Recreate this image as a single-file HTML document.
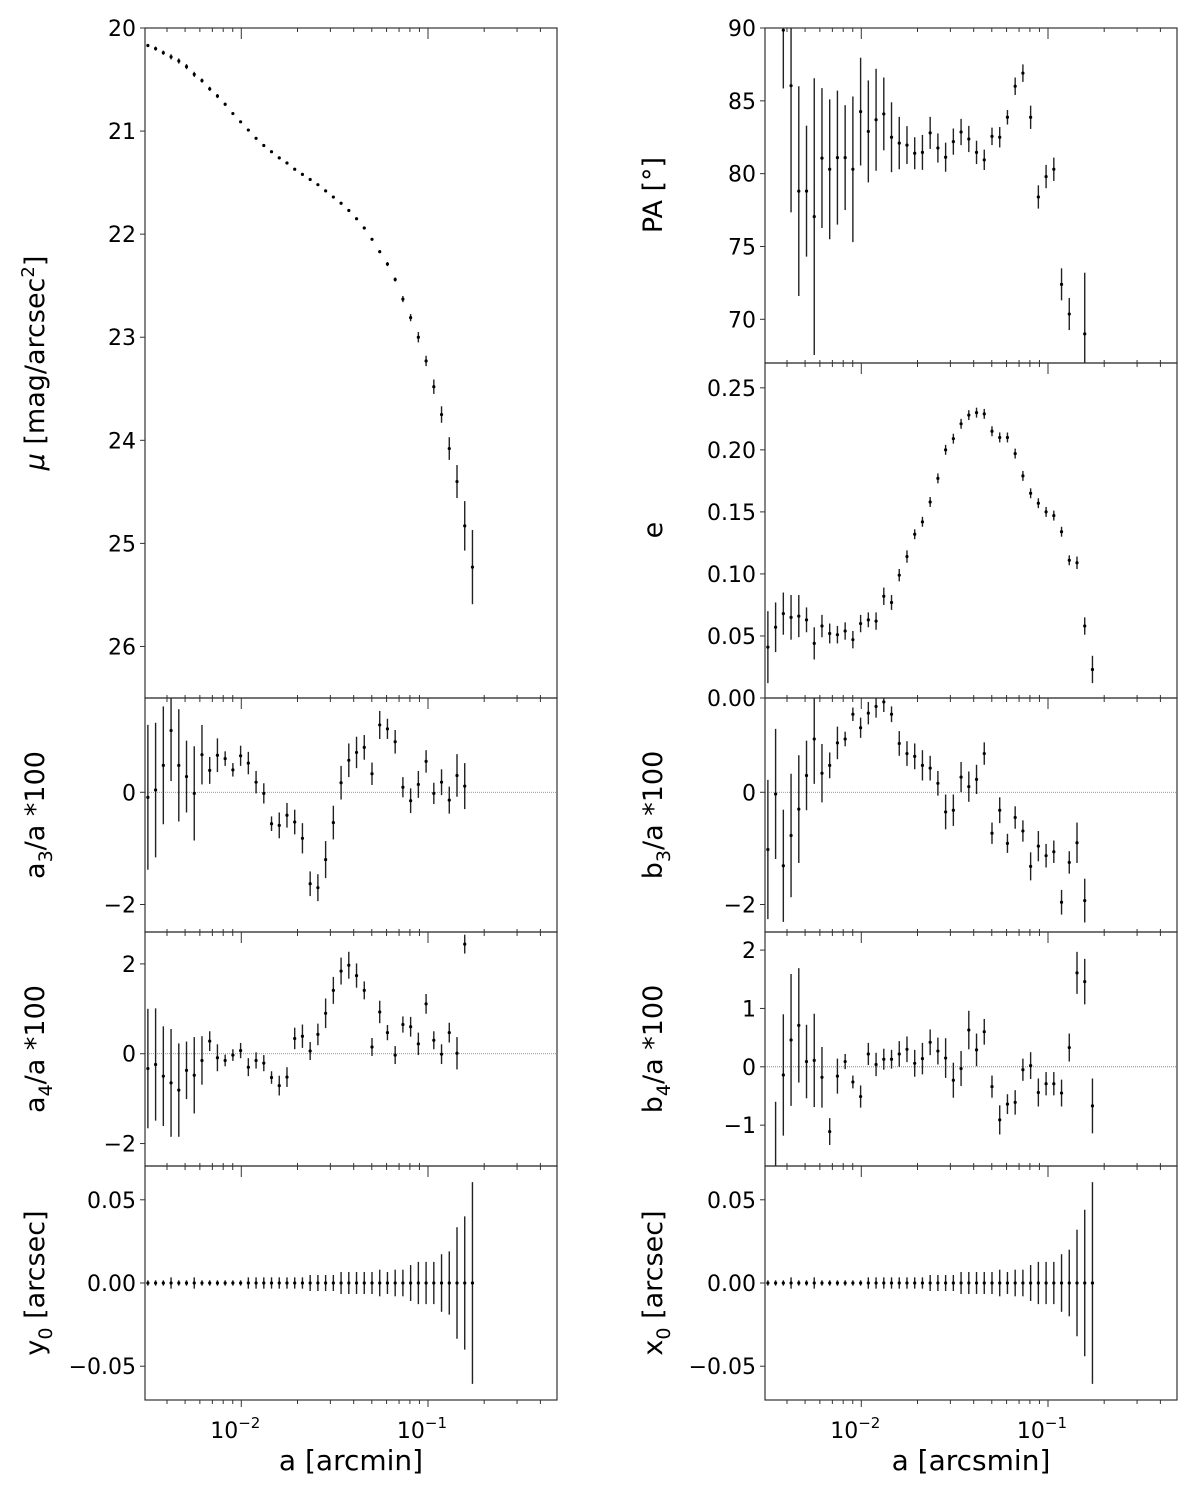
<!DOCTYPE html>
<html><head><meta charset="utf-8">
<style>
html,body{margin:0;padding:0;background:#fff;}
svg{display:block;font-family:"DejaVu Sans","Liberation Sans",sans-serif;}
</style></head>
<body>
<svg id="fig" width="1200" height="1491" viewBox="0 0 1200 1491" xmlns="http://www.w3.org/2000/svg">
<rect width="1200" height="1491" fill="#fff"/>
</svg>
<script>
// ---- data ----
const radius = [0.00316,0.003476,0.0038236,0.004206,0.0046266,0.0050892,0.0055981,0.0061579,0.0067737,0.0074511,0.0081962,0.0090158,0.0099174,0.0109091,0.012,0.0132,0.01452,0.015972,0.0175692,0.0193261,0.0212587,0.0233846,0.0257231,0.0282954,0.0311249,0.0342374,0.0376611,0.0414272,0.0455699,0.0501269,0.0551396,0.0606536,0.066719,0.0733909,0.08073,0.088803,0.0976833,0.1074516,0.1181968,0.1300165,0.1430181,0.1573199,0.1730519];
const muVals = [20.17,20.20,20.24,20.28,20.32,20.375,20.45,20.51,20.59,20.66,20.74,20.83,20.91,20.99,21.07,21.14,21.20,21.26,21.31,21.37,21.42,21.47,21.52,21.58,21.64,21.70,21.77,21.85,21.94,22.05,22.17,22.29,22.44,22.63,22.81,23.00,23.23,23.48,23.75,24.08,24.40,24.83,25.23];
const muErrs = [0.015,0.02,0.02,0.025,0.025,0.025,0.025,0.02,0.02,0.02,0.015,0.01,0.01,0.01,0.01,0.01,0.01,0.01,0.01,0.01,0.01,0.01,0.01,0.01,0.01,0.01,0.01,0.01,0.01,0.01,0.015,0.02,0.02,0.03,0.035,0.05,0.05,0.07,0.08,0.11,0.16,0.24,0.36];
const paVals = [null,null,89.85,86.04,78.8,78.8,77.05,81.07,80.3,81.1,81.1,80.3,84.26,82.9,83.7,84.1,82.5,82.1,81.96,81.4,81.46,82.8,81.76,81.13,82.2,82.86,82.38,81.46,80.95,82.56,82.5,83.87,86.0,86.9,83.87,78.4,79.8,80.3,72.4,70.36,null,69.0,null];
const paErrs = [0,0,4,8.7,7.2,4.5,9.5,4.8,4.8,4.6,3.6,5,3.7,3.5,3.5,2.5,2.4,1.8,1.3,1.1,1.2,1.1,1.0,1.0,0.9,0.9,0.9,0.8,0.7,0.6,0.7,0.5,0.6,0.6,0.8,0.8,0.8,0.8,1.1,1.1,0,4.2,0];
const eVals = [0.041,0.057,0.068,0.065,0.066,0.063,0.044,0.058,0.052,0.051,0.054,0.047,0.060,0.063,0.062,0.082,0.077,0.099,0.114,0.132,0.142,0.158,0.177,0.200,0.209,0.221,0.228,0.230,0.229,0.215,0.210,0.210,0.197,0.179,0.165,0.157,0.150,0.147,0.134,0.111,0.109,0.058,0.023];
const eErrs = [0.029,0.02,0.017,0.018,0.017,0.01,0.013,0.009,0.008,0.007,0.007,0.007,0.007,0.006,0.007,0.007,0.006,0.005,0.005,0.004,0.004,0.004,0.004,0.004,0.004,0.004,0.004,0.004,0.004,0.004,0.004,0.004,0.004,0.004,0.004,0.004,0.004,0.004,0.004,0.004,0.005,0.007,0.011];
const a3Vals = [-0.09,0.04,0.48,1.10,0.48,0.28,-0.02,0.67,0.39,0.66,0.60,0.40,0.65,0.52,0.18,-0.02,-0.56,-0.59,-0.41,-0.53,-0.82,-1.63,-1.70,-1.20,-0.54,0.17,0.57,0.71,0.80,0.33,1.20,1.13,0.90,0.09,-0.15,0.14,0.55,-0.02,0.18,-0.14,0.30,0.11,null];
const a3Errs = [1.29,1.2,1.05,0.9,1.0,0.64,0.84,0.53,0.24,0.3,0.13,0.12,0.18,0.2,0.2,0.18,0.13,0.23,0.22,0.22,0.27,0.22,0.24,0.33,0.3,0.3,0.3,0.28,0.22,0.2,0.25,0.18,0.21,0.18,0.22,0.24,0.2,0.19,0.23,0.24,0.38,0.41,0];
const a4Vals = [-0.33,-0.24,-0.50,-0.65,-0.81,-0.37,-0.48,-0.15,0.28,-0.09,-0.15,-0.03,0.07,-0.30,-0.15,-0.21,-0.53,-0.71,-0.52,0.34,0.39,0.06,0.43,0.90,1.41,1.84,1.97,1.74,1.41,0.15,0.93,0.47,-0.03,0.65,0.60,0.22,1.11,0.30,-0.01,0.47,0.01,2.44,null];
const a4Errs = [1.33,1.25,1.11,1.2,1.04,0.64,0.85,0.54,0.22,0.3,0.13,0.13,0.17,0.2,0.18,0.18,0.14,0.22,0.22,0.24,0.26,0.2,0.24,0.33,0.3,0.3,0.3,0.27,0.2,0.2,0.25,0.17,0.2,0.18,0.22,0.25,0.22,0.2,0.22,0.22,0.36,0.21,0];
const b3Vals = [-1.02,-0.03,-1.31,-0.77,-0.30,0.30,0.95,0.34,0.48,0.88,0.95,1.39,1.15,1.41,1.53,1.61,1.39,0.87,0.69,0.64,0.48,0.43,0.16,-0.35,-0.32,0.27,0.10,0.23,0.69,-0.73,-0.32,-0.91,-0.45,-0.69,-1.32,-0.96,-1.13,-1.06,-1.96,-1.25,-0.90,-1.93,null];
const b3Errs = [1.24,1.16,1.0,1.1,0.96,0.62,0.8,0.52,0.23,0.29,0.13,0.12,0.18,0.2,0.2,0.18,0.14,0.22,0.22,0.23,0.27,0.22,0.22,0.31,0.28,0.27,0.27,0.26,0.2,0.19,0.23,0.17,0.2,0.19,0.25,0.27,0.21,0.2,0.22,0.2,0.36,0.39,0];
const b4Vals = [null,-1.9,-0.14,0.46,0.71,0.09,0.11,-0.18,-1.11,-0.16,0.09,-0.26,-0.51,0.22,0.04,0.13,0.13,0.22,0.30,0.06,0.14,0.42,0.27,0.15,-0.23,-0.03,0.63,0.29,0.60,-0.34,-0.91,-0.64,-0.61,-0.05,0.02,-0.44,-0.29,-0.29,-0.45,0.33,1.61,1.46,-0.67];
const b4Errs = [0,1.3,1.04,1.13,0.98,0.63,0.8,0.52,0.23,0.3,0.13,0.11,0.19,0.19,0.2,0.18,0.16,0.22,0.22,0.23,0.27,0.22,0.23,0.34,0.3,0.3,0.33,0.28,0.22,0.19,0.25,0.17,0.21,0.19,0.23,0.24,0.2,0.2,0.23,0.24,0.36,0.39,0.47];
const y0Vals = [0,0,0,0,0,0,0,0,0,0,0,0,0,0,0,0,0,0,0,0,0,0,0,0,0,0,0,0,0,0,0,0,0,0,0,0,0,0,0,0,0,0,0];
const y0Errs = [0.0016,0.0016,0.0016,0.0034,0.0016,0.0016,0.0034,0.0016,0.0016,0.0016,0.0016,0.0016,0.0016,0.0034,0.0034,0.0034,0.0034,0.0034,0.0034,0.0034,0.0034,0.0048,0.0048,0.0048,0.0048,0.0066,0.0066,0.0066,0.0066,0.0066,0.008,0.0066,0.008,0.008,0.0108,0.0127,0.0127,0.0127,0.0173,0.019,0.0335,0.040,0.0606];
const x0Vals = [0,0,0,0,0,0,0,0,0,0,0,0,0,0,0,0,0,0,0,0,0,0,0,0,0,0,0,0,0,0,0,0,0,0,0,0,0,0,0,0,0,0,0];
const x0Errs = [0.0016,0.0016,0.0016,0.0034,0.0016,0.0016,0.0034,0.0016,0.0016,0.0016,0.0016,0.0016,0.0016,0.0034,0.0034,0.0034,0.0034,0.0034,0.0034,0.0034,0.0034,0.0048,0.0048,0.0048,0.0048,0.0066,0.0066,0.0066,0.0066,0.0066,0.008,0.0066,0.008,0.008,0.0108,0.0127,0.0127,0.0127,0.0173,0.02,0.032,0.044,0.0606];
const muTicks = [20,21,22,23,24,25,26];
const paTicks = [70,75,80,85,90];
const eTicks = [0,0.05,0.10,0.15,0.20,0.25];
const a3Ticks = [-2,0];
const a4Ticks = [-2,0,2];
const b3Ticks = [-2,0];
const b4Ticks = [-1,0,1,2];
const posTicks = [-0.05,0,0.05];
const xMajorTicks = [0.01,0.1];
const xMajorLabels = ["10","10"];
const xMajorExps = ["\u22122","\u22121"];

// ---- drawing ----
const NS = "http://www.w3.org/2000/svg";
const svg = document.getElementById("fig");
const XMIN = Math.log10(0.00305), XMAX = Math.log10(0.4909);
let clipId = 0;
function mk(tag, attrs, parent){
  const el = document.createElementNS(NS, tag);
  for (const k in attrs) el.setAttribute(k, attrs[k]);
  (parent||svg).appendChild(el);
  return el;
}
function fmt(v, dec){
  const s = Math.abs(v).toFixed(dec);
  return (v < 0 ? "\u2212" : "") + s;
}
function panel(p){
  const g = mk("g", {});
  
  
  const xs = a => p.x + (Math.log10(a) - XMIN) / (XMAX - XMIN) * p.w;
  const ys = v => p.y + (p.ymax - v) / (p.ymax - p.ymin) * p.h;
  clipId++;
  const cp = mk("clipPath", {id: "c" + clipId}, g);
  mk("rect", {x: p.x, y: p.y, width: p.w, height: p.h}, cp);
  if (p.zero) {
    const zl = mk("line", {x1: p.x, x2: p.x + p.w, y1: ys(0), y2: ys(0), stroke: "#777", "stroke-width": 0.8, "stroke-dasharray": "1,1"}, g);
    
    
  }
  const sg = mk("g", {"clip-path": "url(#c" + clipId + ")"}, g);
  
  
  for (let i = 0; i < radius.length; i++) {
    const v = p.vals[i];
    if (v === null || v === undefined) continue;
    const cx = xs(radius[i]);
    const e = p.errs[i];
    const bar = mk("line", {x1: cx, x2: cx, y1: ys(v + e), y2: ys(v - e), stroke: "#222", "stroke-width": 1.4}, sg);
    
    
    const pt = mk("circle", {cx: cx, cy: ys(v), r: 1.6, fill: "#000"}, sg);
    
    
  }
  const fr = mk("rect", {x: p.x, y: p.y, width: p.w, height: p.h, fill: "none", stroke: "#333", "stroke-width": 1.2}, g);
  
  
  for (let d = -3; d <= -1; d++) {
    for (let m = 1; m <= 9; m++) {
      const a = m * Math.pow(10, d);
      const lg = Math.log10(a);
      if (lg < XMIN || lg > XMAX) continue;
      const tx = xs(a);
      const len = m === 1 ? 11 : 4;
      const t1 = mk("line", {x1: tx, x2: tx, y1: p.y, y2: p.y + len, stroke: "#333", "stroke-width": 1}, g);
      
      
      if (p.bottom) {
        const t2 = mk("line", {x1: tx, x2: tx, y1: p.y + p.h, y2: p.y + p.h + (m === 1 ? 7 : 4), stroke: "#333", "stroke-width": 1}, g);
        
        
      } else {
        const t3 = mk("line", {x1: tx, x2: tx, y1: p.y + p.h, y2: p.y + p.h - (m === 1 ? 0 : 3), stroke: "#333", "stroke-width": 1}, g);
        
        
      }
    }
  }
  for (const t of p.ticks) {
    const ty = ys(t);
    const tk = mk("line", {x1: p.x - 5, x2: p.x, y1: ty, y2: ty, stroke: "#333", "stroke-width": 1}, g);
    
    
    const tl = mk("text", {x: p.x - 9, y: ty + 8, "text-anchor": "end", "font-size": 22, fill: "#000"}, g);
    
    
    tl.textContent = fmt(t, p.dec);
  }
  if (p.bottom) {
    for (let i = 0; i < xMajorTicks.length; i++) {
      const tx = xs(xMajorTicks[i]);
      const lab = mk("text", {x: tx - 6, y: p.y + p.h + 38, "text-anchor": "middle", "font-size": 22, fill: "#000"}, g);
      
      
      lab.textContent = xMajorLabels[i];
      const ex = mk("tspan", {dy: -10, "font-size": 15}, lab);
      ex.textContent = xMajorExps[i];
    }
  }
  return g;
}
function ytitle(x, y, parts, name){
  const t = mk("text", {x: x, y: y, "text-anchor": "middle", "font-size": 27, fill: "#000", transform: "rotate(-90 " + x + " " + y + ")"});
  
  
  for (const pt of parts) {
    const ts = mk("tspan", pt[1] || {}, t);
    ts.textContent = pt[0];
  }
}

const L = 145, R = 765, W = 412;
panel({name: "mu-panel", x: L, y: 28, w: W, h: 670, ymin: 26.5, ymax: 20, ticks: muTicks, dec: 0, vals: muVals, errs: muErrs});
panel({name: "a3-panel", x: L, y: 698, w: W, h: 234, ymin: -2.49, ymax: 1.68, ticks: a3Ticks, dec: 0, vals: a3Vals, errs: a3Errs, zero: true});
panel({name: "a4-panel", x: L, y: 932, w: W, h: 234, ymin: -2.5, ymax: 2.71, ticks: a4Ticks, dec: 0, vals: a4Vals, errs: a4Errs, zero: true});
panel({name: "y0-panel", x: L, y: 1166, w: W, h: 234, ymin: -0.0703, ymax: 0.0703, ticks: posTicks, dec: 2, vals: y0Vals, errs: y0Errs, bottom: true});
panel({name: "pa-panel", x: R, y: 28, w: W, h: 335, ymin: 67.0, ymax: 90, ticks: paTicks, dec: 0, vals: paVals, errs: paErrs});
panel({name: "e-panel", x: R, y: 363, w: W, h: 335, ymin: 0, ymax: 0.27, ticks: eTicks, dec: 2, vals: eVals, errs: eErrs});
panel({name: "b3-panel", x: R, y: 698, w: W, h: 234, ymin: -2.49, ymax: 1.68, ticks: b3Ticks, dec: 0, vals: b3Vals, errs: b3Errs, zero: true});
panel({name: "b4-panel", x: R, y: 932, w: W, h: 234, ymin: -1.70, ymax: 2.31, ticks: b4Ticks, dec: 0, vals: b4Vals, errs: b4Errs, zero: true});
panel({name: "x0-panel", x: R, y: 1166, w: W, h: 234, ymin: -0.0703, ymax: 0.0703, ticks: posTicks, dec: 2, vals: x0Vals, errs: x0Errs, bottom: true});

ytitle(44, 363, [["\u03bc", {"font-style": "italic"}], [" [mag/arcsec"], ["2", {dy: -10, "font-size": 18}], ["]", {dy: 10}]], "mu-axis-title");
ytitle(44, 815, [["a"], ["3", {dy: 8, "font-size": 19}], ["/a *100", {dy: -8}]], "a3-axis-title");
ytitle(44, 1049, [["a"], ["4", {dy: 8, "font-size": 19}], ["/a *100", {dy: -8}]], "a4-axis-title");
ytitle(44, 1283, [["y"], ["0", {dy: 8, "font-size": 19}], [" [arcsec]", {dy: -8}]], "y0-axis-title");
ytitle(662, 195, [["PA [\u00b0]"]], "pa-axis-title");
ytitle(662, 530, [["e"]], "e-axis-title");
ytitle(662, 815, [["b"], ["3", {dy: 8, "font-size": 19}], ["/a *100", {dy: -8}]], "b3-axis-title");
ytitle(662, 1049, [["b"], ["4", {dy: 8, "font-size": 19}], ["/a *100", {dy: -8}]], "b4-axis-title");
ytitle(662, 1283, [["x"], ["0", {dy: 8, "font-size": 19}], [" [arcsec]", {dy: -8}]], "x0-axis-title");

const xl1 = mk("text", {x: 351, y: 1470, "text-anchor": "middle", "font-size": 28, fill: "#000"});


xl1.textContent = "a [arcmin]";
const xl2 = mk("text", {x: 971, y: 1470, "text-anchor": "middle", "font-size": 28, fill: "#000"});


xl2.textContent = "a [arcsmin]";
</script>
</body></html>
